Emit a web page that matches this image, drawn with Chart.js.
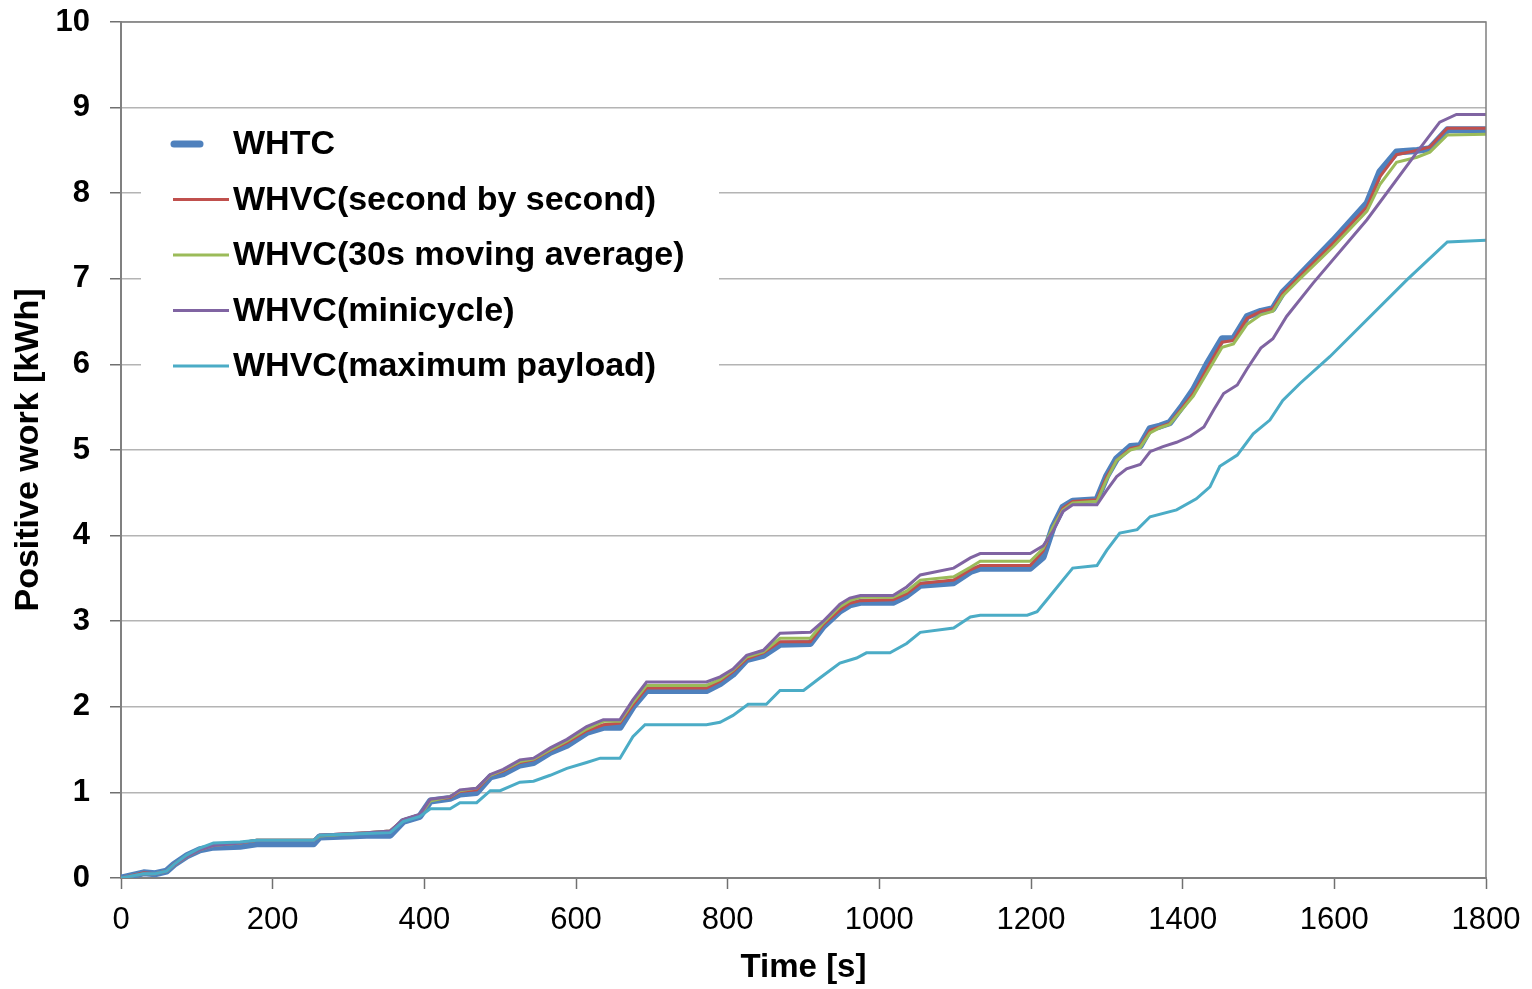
<!DOCTYPE html>
<html lang="en">
<head>
    <meta charset="UTF-8">
    <title>Positive work</title>
    <script src="https://cdn.jsdelivr.net/npm/chart.js"></script>
    <style>
        body { margin: 0; background: #fff; }
        #box { width: 1532px; height: 989px; }
    </style>
</head>
<body>
<div id="box"><canvas id="grafico" width="1532" height="989"></canvas></div>

<script>
    // times [s] and cumulative positive work [kWh]
    const tempoA = [0,30,45,60,70,87,104,122,157,179,254,262,324,355,372,394,408,434,447,469,487,504,526,544,566,588,614,636,658,675,693,772,790,807,825,847,869,909,926,948,961,975,1018,1036,1054,1098,1120,1133,1199,1216,1229,1242,1255,1287,1300,1313,1331,1344,1357,1370,1383,1400,1414,1432,1452,1467,1485,1503,1519,1532,1550,1599,1643,1660,1682,1709,1726,1749,1800];

    const whtc = [0,0.06,0.05,0.08,0.16,0.26,0.33,0.36,0.37,0.4,0.4,0.48,0.5,0.5,0.66,0.72,0.9,0.93,0.98,1.0,1.18,1.22,1.32,1.35,1.47,1.55,1.7,1.76,1.76,2.0,2.19,2.19,2.27,2.38,2.55,2.6,2.73,2.74,2.94,3.12,3.19,3.22,3.22,3.3,3.42,3.45,3.58,3.62,3.62,3.75,4.1,4.33,4.4,4.42,4.7,4.9,5.04,5.05,5.25,5.28,5.32,5.52,5.7,6.0,6.3,6.3,6.56,6.62,6.65,6.84,7.0,7.45,7.88,8.25,8.48,8.5,8.52,8.74,8.74];

    const secBySec = [0,0.06,0.05,0.08,0.16,0.26,0.34,0.39,0.41,0.44,0.44,0.5,0.53,0.55,0.68,0.74,0.91,0.94,1.01,1.03,1.2,1.25,1.35,1.38,1.49,1.58,1.72,1.79,1.81,2.02,2.22,2.22,2.3,2.41,2.56,2.63,2.76,2.76,2.96,3.13,3.21,3.24,3.25,3.32,3.44,3.48,3.6,3.65,3.65,3.82,4.1,4.32,4.4,4.42,4.69,4.88,5.02,5.04,5.23,5.27,5.31,5.5,5.66,5.95,6.26,6.28,6.54,6.62,6.65,6.83,6.99,7.42,7.84,8.19,8.45,8.5,8.54,8.76,8.76];

    const media30s = [0,0.05,0.05,0.08,0.15,0.25,0.33,0.38,0.41,0.44,0.44,0.49,0.53,0.55,0.67,0.73,0.9,0.95,1.02,1.05,1.2,1.26,1.36,1.39,1.5,1.6,1.74,1.83,1.83,2.05,2.25,2.25,2.32,2.43,2.58,2.64,2.8,2.8,2.98,3.17,3.24,3.28,3.28,3.35,3.48,3.52,3.63,3.7,3.7,3.85,4.1,4.3,4.38,4.4,4.66,4.88,5.0,5.03,5.2,5.26,5.3,5.48,5.63,5.9,6.2,6.24,6.47,6.58,6.62,6.8,6.96,7.38,7.79,8.1,8.36,8.42,8.48,8.68,8.69];

    const tempoMini = [0,30,45,60,70,87,104,122,157,179,254,262,324,355,372,394,408,434,447,469,487,504,526,544,566,588,614,636,658,675,693,772,790,807,825,847,869,909,926,948,961,975,1018,1036,1054,1098,1120,1133,1199,1216,1229,1242,1255,1287,1300,1313,1326,1344,1357,1374,1392,1410,1428,1441,1454,1472,1485,1503,1519,1537,1572,1643,1709,1739,1761,1800];
    const minicycle = [0,0.05,0.05,0.08,0.15,0.25,0.33,0.38,0.41,0.44,0.44,0.5,0.53,0.55,0.68,0.74,0.92,0.95,1.03,1.05,1.21,1.27,1.38,1.4,1.52,1.62,1.77,1.85,1.85,2.08,2.29,2.29,2.35,2.44,2.6,2.66,2.86,2.87,3.0,3.2,3.27,3.3,3.3,3.4,3.54,3.62,3.74,3.79,3.79,3.88,4.05,4.28,4.36,4.36,4.53,4.69,4.78,4.83,4.98,5.04,5.09,5.16,5.27,5.47,5.66,5.76,5.95,6.19,6.3,6.56,6.95,7.69,8.48,8.83,8.92,8.92];

    const tempoMax = [0,30,45,60,70,87,104,122,157,179,254,262,324,355,372,394,408,434,447,469,487,500,526,544,566,588,614,632,658,675,691,772,790,807,827,851,869,900,922,948,970,983,1014,1036,1054,1098,1120,1133,1195,1208,1221,1242,1255,1287,1300,1317,1340,1357,1392,1418,1436,1449,1472,1493,1515,1532,1555,1594,1696,1749,1800];
    const maxPayload = [0,0.05,0.05,0.08,0.16,0.27,0.35,0.41,0.42,0.44,0.44,0.5,0.52,0.53,0.66,0.72,0.81,0.81,0.88,0.88,1.02,1.02,1.12,1.13,1.2,1.28,1.35,1.4,1.4,1.65,1.79,1.79,1.82,1.9,2.03,2.03,2.19,2.19,2.34,2.51,2.57,2.63,2.63,2.74,2.87,2.92,3.05,3.07,3.07,3.11,3.25,3.48,3.62,3.65,3.83,4.03,4.07,4.22,4.3,4.43,4.57,4.81,4.94,5.19,5.35,5.58,5.78,6.09,6.99,7.43,7.45];

    const nomes = ['WHTC', 'WHVC(second by second)', 'WHVC(30s moving average)', 'WHVC(minicycle)', 'WHVC(maximum payload)'];
    const cores = ['#4F81BD', '#C0504D', '#9BBB59', '#8064A2', '#4BACC6'];

    function pontos(t, v) {
        let out = [];
        for (let i = 0; i < t.length; i++) {
            out.push({ x: t[i], y: v[i] });
        }
        return out;
    }

    const fonte = '"Liberation Sans", Arial, sans-serif';

    // legenda dentro da area do grafico, com fundo branco
    const legendaPlugin = {
        id: 'legendaInterna',
        afterDraw(chart) {
            const ctx = chart.ctx;
            const area = chart.chartArea;
            ctx.save();
            // borda superior e direita da area
            ctx.strokeStyle = '#808080';
            ctx.lineWidth = 1.5;
            ctx.beginPath();
            ctx.moveTo(area.left, area.top);
            ctx.lineTo(area.right, area.top);
            ctx.lineTo(area.right, area.bottom);
            ctx.stroke();

            ctx.fillStyle = '#fff';
            ctx.fillRect(area.left + 20, 115, 578, 277);

            ctx.font = 'bold 34px ' + fonte;
            ctx.textBaseline = 'middle';
            ctx.textAlign = 'left';
            for (let i = 0; i < nomes.length; i++) {
                const y = 144 + i * 55.5;
                ctx.strokeStyle = cores[i];
                ctx.beginPath();
                if (i == 0) {
                    ctx.lineWidth = 7;
                    ctx.lineCap = 'round';
                    ctx.moveTo(174, y);
                    ctx.lineTo(200, y);
                } else {
                    ctx.lineWidth = 3;
                    ctx.lineCap = 'butt';
                    ctx.moveTo(173, y);
                    ctx.lineTo(229, y);
                }
                ctx.stroke();
                ctx.fillStyle = '#000';
                ctx.fillText(nomes[i], 233, y + 1);
            }
            ctx.restore();
        }
    };

    const series = [
        { label: nomes[0], data: pontos(tempoA, whtc), borderColor: cores[0], borderWidth: 7, order: 5, borderCapStyle: 'round', borderJoinStyle: 'round' },
        { label: nomes[1], data: pontos(tempoA, secBySec), borderColor: cores[1], borderWidth: 3, order: 4 },
        { label: nomes[2], data: pontos(tempoA, media30s), borderColor: cores[2], borderWidth: 3, order: 3 },
        { label: nomes[3], data: pontos(tempoMini, minicycle), borderColor: cores[3], borderWidth: 3, order: 2 },
        { label: nomes[4], data: pontos(tempoMax, maxPayload), borderColor: cores[4], borderWidth: 3, order: 1 }
    ];

    const config = {
        type: 'line',
        data: { datasets: series },
        options: {
            responsive: false,
            animation: false,
            elements: { point: { radius: 0 }, line: { tension: 0, fill: false } },
            layout: { padding: { top: 22, right: 46, left: 0, bottom: 0 } },
            plugins: { legend: { display: false }, tooltip: { enabled: false } },
            scales: {
                x: {
                    type: 'linear',
                    min: 0,
                    max: 1800,
                    ticks: {
                        stepSize: 200, color: '#000', padding: 13, font: { family: fonte, size: 31 },
                        callback: function (v) { return String(v); }
                    },
                    grid: { drawOnChartArea: false, drawTicks: true, tickLength: 11, tickColor: '#707070', tickWidth: 1.5 },
                    border: { color: '#808080', width: 2 },
                    title: { display: true, text: 'Time [s]', color: '#000', padding: { top: 0, bottom: 1 }, font: { family: fonte, size: 33, weight: 'bold' } },
                    afterFit: function (scale) {
                        scale.height = 111;
                        scale.paddingLeft = 0;
                        scale.paddingRight = 0;
                    }
                },
                y: {
                    min: 0,
                    max: 10,
                    ticks: { stepSize: 1, color: '#000', padding: 20, font: { family: fonte, size: 31, weight: 'bold' } },
                    grid: { color: '#b4b4b4', lineWidth: 1.5, tickLength: 11, tickColor: '#707070', tickWidth: 1.5 },
                    border: { color: '#808080', width: 2 },
                    title: { display: true, text: 'Positive work [kWh]', color: '#000', padding: { top: 8, bottom: 0 }, font: { family: fonte, size: 34, weight: 'bold' } },
                    afterFit: function (scale) {
                        scale.width = 121;
                        scale.paddingTop = 0;
                        scale.paddingBottom = 0;
                    }
                }
            }
        },
        plugins: [legendaPlugin]
    };

    let myChart = new Chart(document.getElementById('grafico'), config);
</script>
</body>
</html>
